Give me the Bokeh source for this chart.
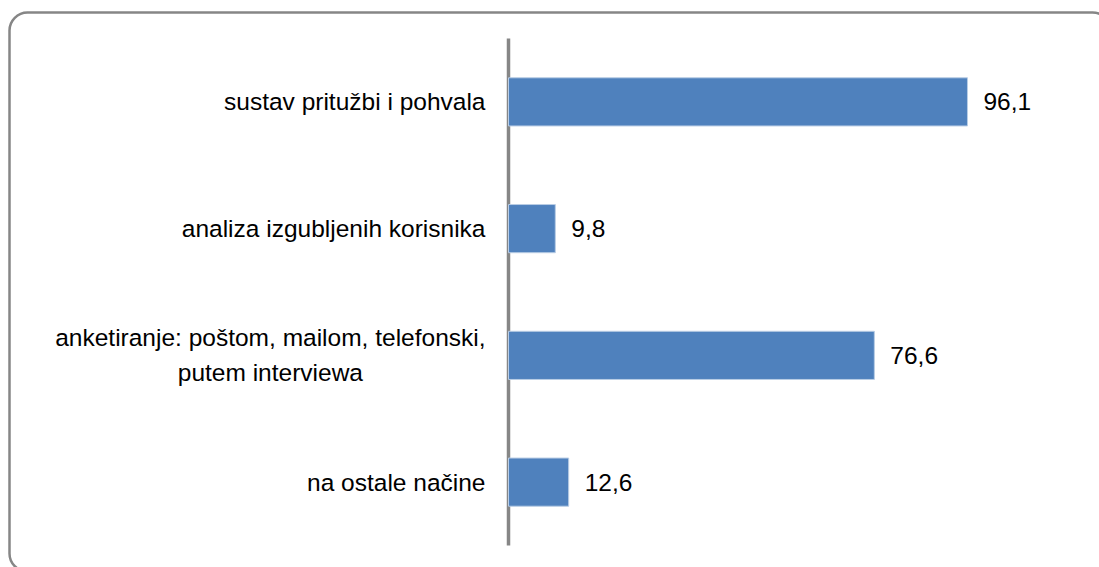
from bokeh.plotting import figure
from bokeh.models import Range1d, BoxAnnotation, ColumnDataSource
from bokeh.core.properties import value
from bokeh.embed import file_html
from bokeh.resources import INLINE

categories = [
    "sustav pritužbi i pohvala",
    "analiza izgubljenih korisnika",
    "anketiranje: poštom, mailom, telefonski,\nputem interviewa",
    "na ostale načine",
]
values = [96.1, 9.8, 76.6, 12.6]
value_labels = [f"{v:.1f}".replace(".", ",") for v in values]

FONT = "Liberation Sans"
FS_PX = 24.5
FS = f"{FS_PX}px"
STANDOFF = 23

# Arial / Liberation Sans advance widths (1/1000 em) to center multi-line labels
W = {"a": 556, "n": 556, "k": 500, "e": 556, "t": 278, "i": 222, "r": 333,
     "j": 222, ":": 278, " ": 278, "p": 556, "o": 556, "š": 500, "s": 500,
     "m": 833, ",": 278, "l": 222, "f": 278, "u": 556, "v": 500, "w": 722,
     "ž": 500, "z": 500, "b": 556, "h": 556, "g": 556, "č": 500, "c": 500}


def text_w(s):
    return sum(W.get(ch, 556) for ch in s) / 1000 * FS_PX


n = len(categories)
ypos = [n - i - 0.5 for i in range(n)]

lab_x_off, lab_align = [], []
for c in categories:
    lines = c.split("\n")
    if len(lines) > 1:
        lab_align.append("center")
        lab_x_off.append(-(STANDOFF + max(text_w(l) for l in lines) / 2))
    else:
        lab_align.append("right")
        lab_x_off.append(-STANDOFF)

src = ColumnDataSource(dict(cat=categories, y=ypos, val=values, lab=value_labels,
                            zero=[0] * n, xo=lab_x_off, al=lab_align))

W_PX, H_PX = 1099, 567
X0_PX = 508           # pixel of value 0
PX_PER_UNIT = 4.776
TOP_PX, BOT_PX = 38, 22
CAT_PX = (H_PX - TOP_PX - BOT_PX) / n

xs = -X0_PX / PX_PER_UNIT
p = figure(
    width=W_PX, height=H_PX,
    x_range=Range1d(xs, xs + W_PX / PX_PER_UNIT),
    y_range=Range1d(-BOT_PX / CAT_PX, n + TOP_PX / CAT_PX),
    output_backend="svg", toolbar_location=None,
    min_border=0, min_border_left=0, min_border_right=0,
    min_border_top=0, min_border_bottom=0,
)
p.outline_line_color = None
p.xgrid.visible = False
p.ygrid.visible = False
p.xaxis.visible = False
p.yaxis.visible = False
p.background_fill_color = "white"
p.border_fill_color = "white"

# axis line
p.segment(x0=0, y0=0, x1=0, y1=n, line_color="#868686", line_width=3.5)

p.hbar(y="y", right="val", left=0, height=0.38, source=src,
       fill_color="#4F81BD", line_color="#B9CDE5", line_width=1)

# value labels
p.text(x="val", y="y", text="lab", source=src, x_offset=16,
       text_baseline="middle", text_align="left",
       text_font=value(FONT), text_font_size=FS, text_color="black")

# category labels
p.text(x="zero", y="y", text="cat", source=src, x_offset="xo",
       text_baseline="middle", text_align="al", text_line_height=1.3,
       text_font=value(FONT), text_font_size=FS, text_color="black")

border = BoxAnnotation(left=9, right=1110, top=H_PX - 12, bottom=H_PX - 571,
                       left_units="screen", right_units="screen",
                       top_units="screen", bottom_units="screen",
                       fill_alpha=0, line_color="#868686", line_alpha=1.0,
                       line_width=2.5, border_radius=18)
p.add_layout(border)

open("out.html", "w").write(file_html(p, INLINE))
